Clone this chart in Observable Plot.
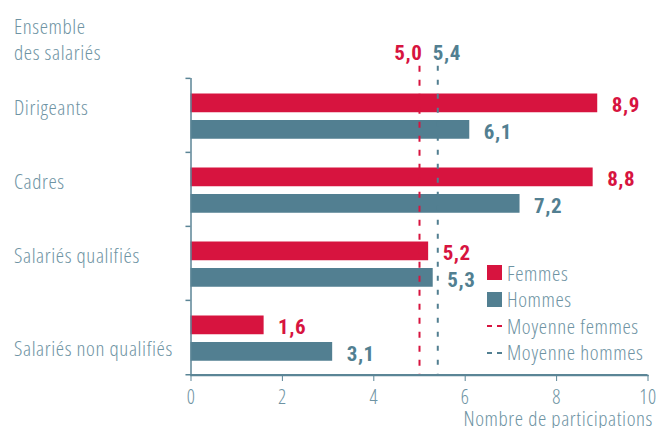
<!DOCTYPE html>
<html><head><meta charset="utf-8">
<script src="https://cdn.jsdelivr.net/npm/d3@7"></script>
<script src="https://cdn.jsdelivr.net/npm/@observablehq/plot@0.6"></script>
<style>
body{margin:0;background:#fff;}
#wrap{position:relative;width:658px;height:428px;font-family:"Open Sans",sans-serif;font-stretch:condensed;font-weight:300;letter-spacing:0.6px;}
#wrap svg{font-stretch:condensed;letter-spacing:0.6px;}
.legend{position:absolute;left:487px;top:259.5px;font-size:21px;color:#6e93a3;}
.row{height:26.6px;line-height:26.6px;display:flex;align-items:center;white-space:nowrap;}
.sw{width:15px;height:15px;margin-right:5px;flex:none;}
.dash{width:15px;height:2px;margin-right:5px;flex:none;}
</style></head><body><div id="wrap"></div>
<script>
const categories = ["Ensemble des salariés", "Dirigeants", "Cadres", "Salariés qualifiés", "Salariés non qualifiés"];
const groups = ["Dirigeants", "Cadres", "Salariés qualifiés", "Salariés non qualifiés"];
const femmes = [8.9, 8.8, 5.2, 1.6];
const hommes = [6.1, 7.2, 5.3, 3.1];
const moyenneFemmes = 5.0;
const moyenneHommes = 5.4;
const xTicks = [0, 2, 4, 6, 8, 10];
const seriesNames = ["Femmes", "Hommes", "Moyenne femmes", "Moyenne hommes"];

const RED = "#d7143f", TEAL = "#527f91", TXT = "#6e93a3", AX = "#5b8596";
const fmt = v => v.toFixed(1).replace(".", ",");
const LABEL_FONT = '"Open Sans", sans-serif';
const VALUE_FONT = 'Roboto, sans-serif';

const H = 428, mt = 3.75, mb = 53;
const bw = (H - mt - mb) / categories.length;

const dataF = groups.map((g, i) => ({cat: g, v: femmes[i]}));
const dataH = groups.map((g, i) => ({cat: g, v: hommes[i]}));
const last = groups[groups.length - 1];

const chart = Plot.plot({
  width: 658, height: H,
  marginLeft: 190.5, marginRight: 10.5, marginTop: mt, marginBottom: mb,
  style: {fontFamily: LABEL_FONT, background: "#fff", fontWeight: 300},
  x: {domain: [0, 10], axis: null},
  y: {type: "band", domain: categories, padding: 0, axis: null},
  marks: [
    Plot.barX(dataF, {x: "v", y: "cat", fill: RED, insetTop: 15.5, insetBottom: bw - 34.5}),
    Plot.barX(dataH, {x: "v", y: "cat", fill: TEAL, insetTop: 42, insetBottom: bw - 61}),
    Plot.ruleX([moyenneFemmes], {x: d => d, insetTop: 62, stroke: RED, strokeWidth: 2, strokeDasharray: "6,8"}),
    Plot.ruleX([moyenneHommes], {x: d => d, insetTop: 62, stroke: TEAL, strokeWidth: 2, strokeDasharray: "5,9"}),
    Plot.ruleX([0], {x: d => d, insetTop: bw, stroke: AX, strokeWidth: 1.5}),
    Plot.ruleY(groups, {y: d => d, dy: -bw / 2, x1: -0.11, x2: 0, stroke: AX, strokeWidth: 1.5}),
    Plot.axisX({ticks: xTicks, tickSize: 6, tickPadding: 8, fontSize: 20, stroke: AX, fill: TXT, label: null, tickFormat: d => String(d)}),
    Plot.text(["Nombre de participations"], {frameAnchor: "bottom-right", dx: 5, dy: 43.5, textAnchor: "end", lineAnchor: "middle", fontSize: 21, fill: TXT}),
    Plot.text(dataF, {x: "v", y: "cat", text: d => fmt(d.v), dx: 14, dy: -10, textAnchor: "start", fill: RED, fontSize: 21, fontWeight: "bold", fontFamily: VALUE_FONT}),
    Plot.text(dataH, {x: "v", y: "cat", text: d => fmt(d.v), dx: 14, dy: 17, textAnchor: "start", fill: TEAL, fontSize: 21, fontWeight: "bold", fontFamily: VALUE_FONT}),
    Plot.text([moyenneFemmes], {x: d => d, text: d => fmt(d), frameAnchor: "top", dy: 49, dx: 3, textAnchor: "end", lineAnchor: "middle", fill: RED, fontSize: 21, fontWeight: "bold", fontFamily: VALUE_FONT}),
    Plot.text([moyenneHommes], {x: d => d, text: d => fmt(d), frameAnchor: "top", dy: 49, dx: -5, textAnchor: "start", lineAnchor: "middle", fill: TEAL, fontSize: 21, fontWeight: "bold", fontFamily: VALUE_FONT}),
    Plot.text([categories[0]], {y: d => d, text: d => d.replace("Ensemble ", "Ensemble\n"), frameAnchor: "left", dx: -177, dy: -3, textAnchor: "start", lineHeight: 1.22, fill: TXT, fontSize: 21}),
    Plot.text(groups.slice(0, 3), {y: d => d, text: d => d, frameAnchor: "left", dx: -177, dy: -7, textAnchor: "start", fill: TXT, fontSize: 21}),
    Plot.text([last], {y: d => d, text: d => d, frameAnchor: "left", dx: -177, dy: 12, textAnchor: "start", fill: TXT, fontSize: 21}),
    Plot.frame({anchor: "bottom", stroke: AX, strokeWidth: 1.5}),
    Plot.ruleY(groups.slice(-1), {y: d => d, dy: bw / 2, x1: -0.11, x2: 10, stroke: AX, strokeWidth: 1.5})
  ]
});
const wrap = document.getElementById("wrap");
wrap.appendChild(chart);

const legend = document.createElement("div");
legend.className = "legend";
const kinds = [["sw", RED], ["sw", TEAL], ["dash", RED], ["dash", TEAL]];
seriesNames.forEach((name, i) => {
  const row = document.createElement("div");
  row.className = "row";
  const key = document.createElement("span");
  key.className = kinds[i][0];
  if (kinds[i][0] === "sw") key.style.background = kinds[i][1];
  else key.style.background = `repeating-linear-gradient(90deg, ${kinds[i][1]} 0 5px, transparent 5px 10px)`;
  const label = document.createElement("span");
  label.textContent = name;
  row.appendChild(key); row.appendChild(label);
  legend.appendChild(row);
});
wrap.appendChild(legend);
</script></body></html>
